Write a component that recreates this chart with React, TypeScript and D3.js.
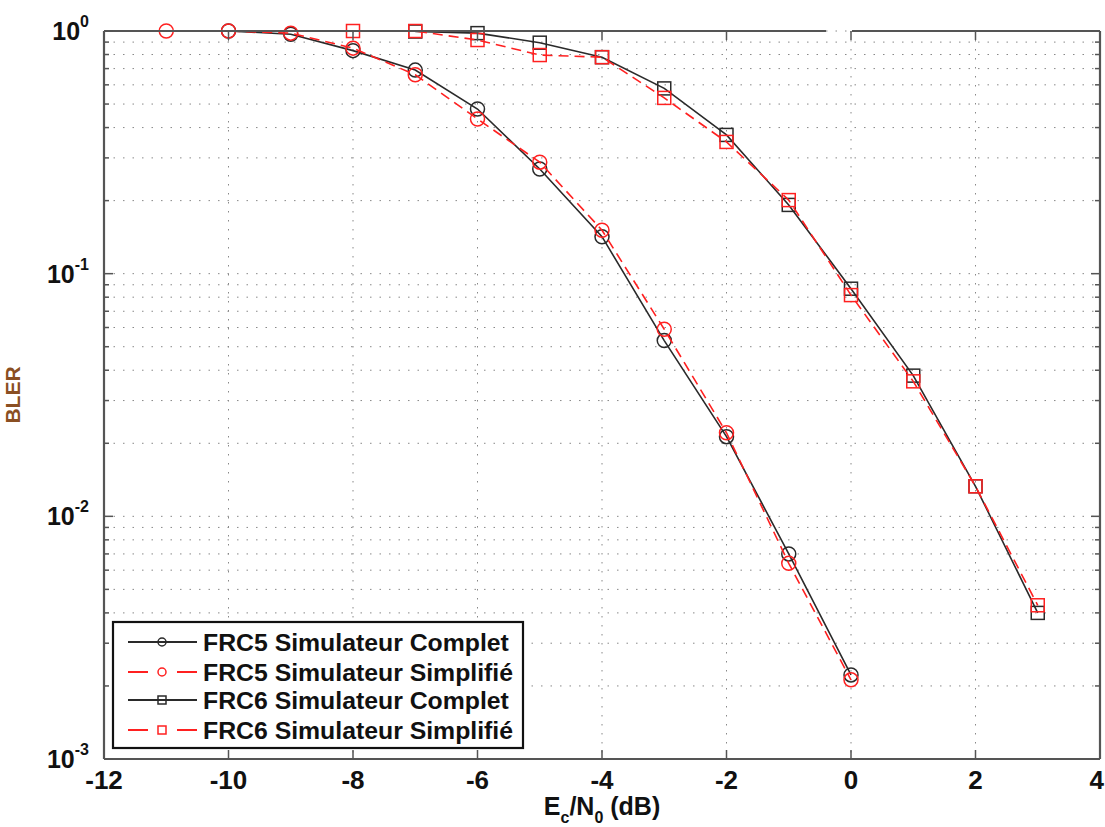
import React from 'react';
import * as d3 from 'd3';

// x values (Ec/N0 in dB) and BLER
const frc5X_complet = [-10, -9, -8, -7, -6, -5, -4, -3, -2, -1, 0];
const frc5Y_complet = [1.0, 0.97, 0.83, 0.69, 0.477, 0.27, 0.142, 0.053, 0.0213, 0.0070, 0.00222];

const frc5X_simpl = [-11, -10, -9, -8, -7, -6, -5, -4, -3, -2, -1, 0];
const frc5Y_simpl = [1.0, 1.0, 0.98, 0.85, 0.66, 0.434, 0.288, 0.151, 0.059, 0.0221, 0.0064, 0.00212];

const frc6X_complet = [-7, -6, -5, -4, -3, -2, -1, 0, 1, 2, 3];
const frc6Y_complet = [0.995, 0.98, 0.895, 0.78, 0.58, 0.373, 0.192, 0.0867, 0.038, 0.0133, 0.0040];

const frc6X_simpl = [-8, -7, -6, -5, -4, -3, -2, -1, 0, 1, 2, 3];
const frc6Y_simpl = [1.0, 1.0, 0.918, 0.796, 0.78, 0.53, 0.349, 0.201, 0.0816, 0.036, 0.0133, 0.0043];

const xTicks = [-12, -10, -8, -6, -4, -2, 0, 2, 4];
const yDecades = [0, -1, -2, -3];

const legendLabels = [
  'FRC5 Simulateur Complet',
  'FRC5 Simulateur Simplifié',
  'FRC6 Simulateur Complet',
  'FRC6 Simulateur Simplifié',
];

const W = 1105, H = 827;
const margin = { top: 31, right: 5, bottom: 68, left: 104 };
const innerW = W - margin.left - margin.right;
const innerH = H - margin.top - margin.bottom;

const RED = '#ff2020';
const BLACK = '#2a2a2a';
const AXIS = '#555';
const FONT = 'Arial, "Liberation Sans", Helvetica, sans-serif';

type Series = { xs: number[]; ys: number[]; color: string; dash?: string; marker: 'circle' | 'square' };

const series: Series[] = [
  { xs: frc5X_complet, ys: frc5Y_complet, color: BLACK, marker: 'circle' },
  { xs: frc5X_simpl, ys: frc5Y_simpl, color: RED, dash: '10,6', marker: 'circle' },
  { xs: frc6X_complet, ys: frc6Y_complet, color: BLACK, marker: 'square' },
  { xs: frc6X_simpl, ys: frc6Y_simpl, color: RED, dash: '10,6', marker: 'square' },
];

function Marker({ kind, x, y, color, size }: { kind: string; x: number; y: number; color: string; size: number }) {
  if (kind === 'circle') {
    return <circle cx={x} cy={y} r={size} fill="none" stroke={color} strokeWidth={1.5} />;
  }
  return <rect x={x - size} y={y - size} width={size * 2} height={size * 2} fill="none" stroke={color} strokeWidth={1.5} />;
}

export default function App() {
  const x = d3.scaleLinear().domain([-12, 4]).range([0, innerW]);
  const y = d3.scaleLog().domain([1e-3, 1]).range([innerH, 0]);

  const minorY: number[] = [];
  for (let e = -3; e < 0; e++) {
    for (let m = 2; m <= 9; m++) minorY.push(m * Math.pow(10, e));
  }
  const majorY = yDecades.map(d => Math.pow(10, d));

  const line = d3.line<[number, number]>().x(d => x(d[0])).y(d => y(d[1]));

  const legX = 113 - margin.left, legY = 622 - margin.top, legW = 410, legH = 126;
  const rowY = [20, 50, 78, 108];

  return (
    <div style={{ position: 'absolute', left: 0, top: 0 }}>
      <svg width={W} height={H} style={{ display: 'block', background: '#fff' }}>
        <g transform={`translate(${margin.left},${margin.top})`}>
          {/* horizontal grid */}
          {[...minorY, ...majorY].map((v, i) => (
            <line key={'hg' + i} x1={0} x2={innerW} y1={y(v)} y2={y(v)}
              stroke="#888" strokeWidth={1} strokeDasharray="1.5,8" />
          ))}
          {/* vertical grid */}
          {xTicks.slice(1, -1).map(t => (
            <line key={'vg' + t} x1={x(t)} x2={x(t)} y1={0} y2={innerH}
              stroke="#888" strokeWidth={1} strokeDasharray="1.5,7.5" />
          ))}

          {/* data */}
          {series.map((s, i) => (
            <g key={'s' + i}>
              <path d={line(s.xs.map((v, j) => [v, s.ys[j]] as [number, number])) || ''}
                fill="none" stroke={s.color} strokeWidth={1.6} strokeDasharray={s.dash} />
              {s.xs.map((v, j) => (
                <Marker key={j} kind={s.marker} x={x(v)} y={y(s.ys[j])} color={s.color}
                  size={s.marker === 'circle' ? 7 : 6.5} />
              ))}
            </g>
          ))}

          {/* axes box */}
          <line x1={0} x2={0} y1={0} y2={innerH} stroke={AXIS} strokeWidth={2.2} />
          <line x1={innerW} x2={innerW} y1={0} y2={innerH} stroke={AXIS} strokeWidth={2.2} />
          <line x1={0} x2={innerW} y1={innerH} y2={innerH} stroke={AXIS} strokeWidth={2.2} />
          <line x1={0} x2={826 - margin.left} y1={0} y2={0} stroke={AXIS} strokeWidth={2.2} />
          <line x1={852 - margin.left} x2={innerW} y1={0} y2={0} stroke={AXIS} strokeWidth={2.2} />

          {/* x ticks */}
          {xTicks.map((t, i) => {
            const last = i === xTicks.length - 1;
            return (
              <g key={'xt' + t}>
                <line x1={x(t)} x2={x(t)} y1={innerH} y2={innerH - 9} stroke={AXIS} strokeWidth={1.5} />
                <line x1={x(t)} x2={x(t)} y1={0} y2={9} stroke={AXIS} strokeWidth={1.5} />
                <text x={last ? x(t) + 4 : x(t)} y={innerH + 30} textAnchor={last ? 'end' : 'middle'}
                  fontFamily={FONT} fontWeight="bold" fontSize={26} fill="#111">
                  {t < 0 ? `-${Math.abs(t)}` : t}
                </text>
              </g>
            );
          })}

          {/* y ticks */}
          {[...majorY, ...minorY].map((v, i) => {
            const len = i < majorY.length ? 9 : 5;
            return (
              <g key={'yt' + i}>
                <line x1={0} x2={len} y1={y(v)} y2={y(v)} stroke={AXIS} strokeWidth={1.5} />
                <line x1={innerW} x2={innerW - len} y1={y(v)} y2={y(v)} stroke={AXIS} strokeWidth={1.5} />
              </g>
            );
          })}
          {yDecades.map(d => (
            <text key={'yl' + d} x={-15} y={y(Math.pow(10, d)) + 9} textAnchor="end"
              fontFamily={FONT} fontSize={25} fontWeight="bold" fill="#111">
              10<tspan dy={-13} fontSize={16}>{d === 0 ? '0' : `-${Math.abs(d)}`}</tspan>
            </text>
          ))}

          {/* axis labels */}
          <text transform={`translate(${20 - margin.left},${innerH / 2}) rotate(-90)`} textAnchor="middle"
            fontFamily={FONT} fontSize={21} fontWeight="bold" fill="#8a4f22">BLER</text>
          <text x={innerW / 2} y={innerH + 56} textAnchor="middle" fontFamily={FONT} fontSize={25}
            fontWeight="bold" fill="#111">
            E<tspan dy={8} fontSize={16}>c</tspan><tspan dy={-8}>/N</tspan><tspan dy={8} fontSize={16}>0</tspan>
            <tspan dy={-8}> (dB)</tspan>
          </text>

          {/* legend */}
          <g transform={`translate(${legX},${legY})`}>
            <rect x={0} y={0} width={legW} height={legH} fill="#fff" stroke="#111" strokeWidth={2.2} />
            {series.map((s, i) => (
              <g key={'lg' + i} transform={`translate(0,${rowY[i]})`}>
                <line x1={15} x2={84} y1={0} y2={0} stroke={s.color} strokeWidth={2}
                  strokeDasharray={s.dash ? '20,29,20' : undefined} />
                <Marker kind={s.marker} x={49} y={0} color={s.color} size={4} />
                <text x={90} y={9} fontFamily={FONT} fontSize={24.8} fontWeight="bold" fill="#111">
                  {legendLabels[i]}
                </text>
              </g>
            ))}
          </g>
        </g>
      </svg>
    </div>
  );
}
